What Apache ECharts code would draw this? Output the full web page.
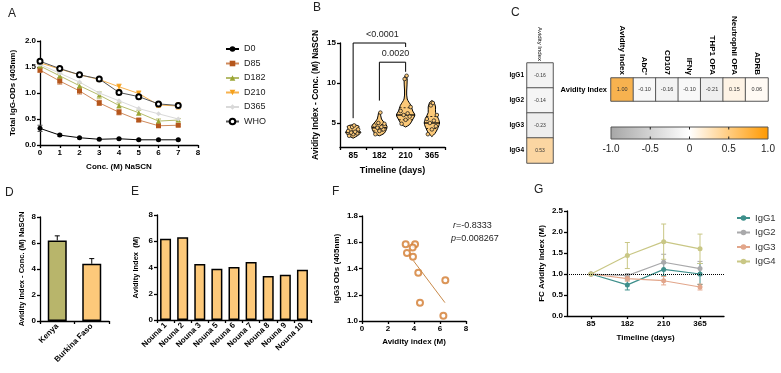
<!DOCTYPE html>
<html>
<head>
<meta charset="utf-8">
<script src="https://cdn.jsdelivr.net/npm/echarts@6/dist/echarts.min.js"></script>
<style>
html, body { margin: 0; padding: 0; background: #fff; }
#main { width: 781px; height: 373px; }
</style>
</head>
<body>
<div id="main"></div>
<script>
var myChart = echarts.init(document.getElementById('main'));

// ---- A: total IgG vs NaSCN concentration
var concA = [0, 1, 2, 3, 4, 5, 6, 7];
var d0   = [0.32, 0.19, 0.14, 0.11, 0.12, 0.10, 0.10, 0.10];
var d85  = [1.44, 1.23, 1.04, 0.81, 0.63, 0.48, 0.37, 0.38];
var d182 = [1.52, 1.33, 1.14, 0.96, 0.76, 0.62, 0.46, 0.48];
var d210 = [1.58, 1.46, 1.35, 1.26, 1.12, 0.99, 0.77, 0.75];
var d365 = [1.55, 1.38, 1.21, 1.00, 0.85, 0.70, 0.60, 0.50];
var who  = [1.61, 1.47, 1.35, 1.27, 1.01, 0.93, 0.79, 0.76];
var errD0   = [0.06, 0.02, 0.01, 0.01, 0.01, 0.01, 0.01, 0.01];
var errD85  = [0.04, 0.06, 0.06, 0.05, 0.05, 0.03, 0.03, 0.02];
var errD182 = [0.03, 0.05, 0.05, 0.06, 0.05, 0.05, 0.04, 0.03];
var errD210 = [0.03, 0.03, 0.03, 0.04, 0.05, 0.05, 0.05, 0.06];

// ---- B: violins per timepoint
var days = ['85', '182', '210', '365'];
var pts85  = [3.4, 3.6, 3.7, 3.8, 3.9, 4.0, 4.2, 4.5, 4.7];
var pts182 = [3.6, 4.0, 4.2, 4.4, 4.5, 4.7, 4.9, 5.0, 6.3];
var pts210 = [4.9, 5.4, 5.8, 6.0, 6.2, 6.5, 7.0, 10.5, 10.9];
var pts365 = [3.6, 4.2, 4.6, 5.0, 5.3, 5.5, 6.0, 7.2, 7.5];
// violin outline: [value, half width as share of the category band]
var violin85  = [[3.1, 0], [3.4, 0.16], [3.8, 0.29], [4.2, 0.2], [4.6, 0.22], [4.8, 0]];
var violin182 = [[3.4, 0], [3.7, 0.18], [4.2, 0.27], [4.6, 0.29], [5.0, 0.2], [5.5, 0.08], [6.3, 0.03], [6.4, 0]];
var violin210 = [[4.5, 0], [4.8, 0.15], [5.5, 0.28], [6.0, 0.35], [6.5, 0.27], [7.2, 0.2], [8.0, 0.06], [9.0, 0.04], [10.5, 0.06], [11.0, 0]];
var violin365 = [[3.3, 0], [3.7, 0.12], [4.3, 0.22], [5.0, 0.29], [5.6, 0.24], [6.3, 0.14], [7.0, 0.14], [7.6, 0.08], [7.8, 0]];
var quart85  = [3.6, 3.85, 4.1];
var quart182 = [4.0, 4.4, 4.8];
var quart210 = [5.4, 6.0, 6.9];
var quart365 = [4.3, 5.0, 5.8];
var brackets = [[0, 2, 15, 5.6, 14.5], [1, 2, 12.6, 7.8, 11.4]];
var bracketLabels = ['<0.0001', '0.0020'];

// ---- C: correlations
var igSubclasses = ['IgG1', 'IgG2', 'IgG3', 'IgG4'];
var igCorr = [-0.16, -0.14, -0.23, 0.53];
var funcAssays = ['Avidity Index', "AbC'", 'CD107', 'IFNγ', 'THP1 OPA', 'Neutrophil OPA', 'ADRB'];
var funcCorr = [1.00, -0.10, -0.16, -0.10, -0.21, 0.15, 0.06];
var cbTicks = [-1, -0.5, 0, 0.5, 1];

// ---- D: by country
var countries = ['Kenya', 'Burkina Faso'];
var countryAvi = [6.2, 4.4];
var countryErr = [0.35, 0.4];

// ---- E: Nouna sites
var nounaSites = ['Nouna 1', 'Nouna 2', 'Nouna 3', 'Nouna 5', 'Nouna 6', 'Nouna 7', 'Nouna 8', 'Nouna 9', 'Nouna 10'];
var nounaAvi = [6.2, 6.3, 4.27, 3.9, 4.04, 4.42, 3.36, 3.44, 3.82];

// ---- F: IgG3 vs avidity
var aviF  = [3.36, 4.08, 3.9, 3.46, 3.92, 4.33, 6.41, 4.46, 6.26];
var igg3F = [1.584, 1.584, 1.56, 1.518, 1.49, 1.367, 1.31, 1.14, 1.04];
var fitLine = [[3.95, 1.46], [6.38, 1.14]];

// ---- G: fold change in avidity per subclass
var gDays = ['85', '182', '210', '365'];
var fcIgG1 = [1.0, 0.74, 1.11, 1.0];
var fcIgG2 = [1.0, 0.96, 1.28, 1.13];
var fcIgG3 = [1.0, 0.89, 0.84, 0.69];
var fcIgG4 = [1.0, 1.44, 1.77, 1.60];
var errIgG1 = [0, 0.12, 0.15, 0.25];
var errIgG2 = [0, 0.05, 0.19, 0.17];
var errIgG3 = [0, 0.06, 0.1, 0.07];
var errIgG4 = [0, 0.31, 0.42, 0.35];

var FONT = 'Liberation Sans, Arial, sans-serif';
var BLACK_LINE = { show: true, onZero: false, lineStyle: { color: '#000', width: 1.3 } };
var TICK = { show: true, length: 3, lineStyle: { color: '#000', width: 1.3 } };
function lbl(size, extra) {
    var o = { color: '#000', fontSize: size || 8, fontWeight: 'bold', fontFamily: FONT, margin: 4 };
    for (var k in extra) o[k] = extra[k];
    return o;
}
var NAME = { color: '#000', fontSize: 8, fontWeight: 'bold', fontFamily: FONT };

function pairs(xs, ys) {
    return xs.map(function (x, i) { return [x, ys[i]]; });
}

function errSeries(xi, yi, xs, means, errs, color, upOnly) {
    var data = xs.map(function (x, i) {
        return [x, upOnly ? means[i] : means[i] - errs[i], means[i] + errs[i]];
    });
    return {
        type: 'custom', xAxisIndex: xi, yAxisIndex: yi, silent: true, z: 3,
        data: data,
        renderItem: function (params, api) {
            if (api.value(2) === api.value(1)) return;
            var x = api.value(0);
            var a = api.coord([x, api.value(1)]);
            var b = api.coord([x, api.value(2)]);
            var hw = 2.5, st = { stroke: color, lineWidth: 1 };
            var ch = [
                { type: 'line', shape: { x1: a[0], y1: a[1], x2: b[0], y2: b[1] }, style: st },
                { type: 'line', shape: { x1: b[0] - hw, y1: b[1], x2: b[0] + hw, y2: b[1] }, style: st }
            ];
            if (!upOnly) ch.push({ type: 'line', shape: { x1: a[0] - hw, y1: a[1], x2: a[0] + hw, y2: a[1] }, style: st });
            return { type: 'group', children: ch };
        }
    };
}

function lineA(name, ys, color, symbol, extra) {
    var s = {
        name: name, type: 'line', xAxisIndex: 0, yAxisIndex: 0,
        data: pairs(concA, ys), symbol: symbol, symbolSize: 5,
        itemStyle: { color: color }, lineStyle: { color: color, width: 1 }, z: 4
    };
    for (var k in extra) s[k] = extra[k];
    return s;
}

function widthAt(prof, y) {
    for (var i = 1; i < prof.length; i++) {
        if (y <= prof[i][0]) {
            var t = (y - prof[i - 1][0]) / (prof[i][0] - prof[i - 1][0]);
            return prof[i - 1][1] + t * (prof[i][1] - prof[i - 1][1]);
        }
    }
    return 0;
}

var violinProfiles = [violin85, violin182, violin210, violin365];
var violinQuarts = [quart85, quart182, quart210, quart365];
var violinPoints = [pts85, pts182, pts210, pts365];
var pointData = [];
violinPoints.forEach(function (arr, g) {
    arr.forEach(function (v, k) { pointData.push([g, v, k]); });
});
var jitter = [-4, 0, 4, -2, 2, -5, 5, -1, 1];

var G_COLORS = ['#3e8f8b', '#a9a9ab', '#e2a68b', '#c9c785'];
function lineG(name, ys, color) {
    return {
        name: name, type: 'line', xAxisIndex: 8, yAxisIndex: 8,
        data: pairs([0, 1, 2, 3], ys), symbol: 'circle', symbolSize: 5,
        itemStyle: { color: color }, lineStyle: { color: color, width: 1.2 }, z: 4
    };
}

var option = {
    animation: false,
    backgroundColor: '#fff',
    textStyle: { fontFamily: FONT },
    grid: [
        { left: 40, top: 41, width: 158, height: 104, outerBoundsMode: 'none' },
        { left: 340, top: 43, width: 105, height: 104, outerBoundsMode: 'none' },
        { left: 527, top: 63, width: 26, height: 100, outerBoundsMode: 'none' },
        { left: 611, top: 78, width: 157, height: 23, outerBoundsMode: 'none' },
        { left: 611, top: 127, width: 157, height: 12, outerBoundsMode: 'none' },
        { left: 40, top: 217, width: 69, height: 104, outerBoundsMode: 'none' },
        { left: 157, top: 215, width: 154, height: 105, outerBoundsMode: 'none' },
        { left: 362, top: 216, width: 104, height: 105, outerBoundsMode: 'none' },
        { left: 567, top: 211, width: 157, height: 105, outerBoundsMode: 'none' }
    ],
    xAxis: [
        { gridIndex: 0, type: 'value', min: 0, max: 8, interval: 1, splitLine: { show: false },
          axisLine: BLACK_LINE, axisTick: TICK, axisLabel: lbl(8),
          name: 'Conc. (M) NaSCN', nameLocation: 'middle', nameGap: 18, nameTextStyle: NAME },
        { gridIndex: 1, type: 'category', data: days, axisLine: BLACK_LINE, axisTick: TICK,
          axisLabel: lbl(8.5),
          name: 'Timeline (days)', nameLocation: 'middle', nameGap: 19,
          nameTextStyle: { color: '#000', fontSize: 9, fontWeight: 'bold' } },
        { gridIndex: 2, type: 'category', data: ['Avidity Index'], position: 'top',
          axisLine: { show: false }, axisTick: { show: false },
          axisLabel: { rotate: 90, fontSize: 6, color: '#000', margin: 2 } },
        { gridIndex: 3, type: 'category', data: funcAssays, position: 'top',
          axisLine: { show: false }, axisTick: { show: false },
          axisLabel: lbl(8, { rotate: 90, margin: 3, fontWeight: 'bold', interval: 0 }) },
        { gridIndex: 4, type: 'value', min: -1, max: 1, interval: 0.5, splitLine: { show: false },
          axisLine: { show: false }, axisTick: { show: false },
          axisLabel: { color: '#222', fontSize: 10, margin: 5,
                       formatter: function (v) { return v === 0 ? '0' : v.toFixed(1); } } },
        { gridIndex: 5, type: 'category', data: countries, axisLine: BLACK_LINE, axisTick: TICK,
          axisLabel: lbl(8, { rotate: 45, interval: 0 }) },
        { gridIndex: 6, type: 'category', data: nounaSites, axisLine: BLACK_LINE, axisTick: TICK,
          axisLabel: lbl(8, { rotate: 45, interval: 0 }) },
        { gridIndex: 7, type: 'value', min: 0, max: 8, interval: 2, splitLine: { show: false },
          axisLine: BLACK_LINE, axisTick: TICK, axisLabel: lbl(8),
          name: 'Avidity index (M)', nameLocation: 'middle', nameGap: 17, nameTextStyle: NAME },
        { gridIndex: 8, type: 'value', min: -0.66, max: 3.66, splitLine: { show: false },
          axisLine: BLACK_LINE,
          axisTick: { show: true, length: 3, lineStyle: { color: '#000', width: 1.3 }, customValues: [0, 1, 2, 3] },
          axisLabel: lbl(8, { customValues: [0, 1, 2, 3],
                              formatter: function (v) { return gDays[Math.round(v)]; } }),
          name: 'Timeline (days)', nameLocation: 'middle', nameGap: 18, nameTextStyle: NAME }
    ],
    yAxis: [
        { gridIndex: 0, type: 'value', min: 0, max: 2, interval: 0.5, splitLine: { show: false },
          axisLine: BLACK_LINE, axisTick: TICK,
          axisLabel: lbl(8, { formatter: function (v) { return v.toFixed(1); } }),
          name: 'Total IgG-ODs (405nm)', nameLocation: 'middle', nameGap: 23, nameTextStyle: NAME },
        { gridIndex: 1, type: 'value', min: 2, max: 15, splitLine: { show: false },
          axisLine: BLACK_LINE,
          axisTick: { show: true, length: 3, lineStyle: { color: '#000', width: 1.3 }, customValues: [5, 10, 15] },
          axisLabel: lbl(8, { customValues: [5, 10, 15] }),
          name: 'Avidity Index - Conc. (M) NaSCN', nameLocation: 'middle', nameGap: 20,
          nameTextStyle: { color: '#000', fontSize: 8.5, fontWeight: 'bold' } },
        { gridIndex: 2, type: 'category', data: igSubclasses, inverse: true,
          axisLine: { show: false }, axisTick: { show: false },
          axisLabel: lbl(6.5, { margin: 3 }) },
        { gridIndex: 3, type: 'category', data: ['Avidity Index'],
          axisLine: { show: false }, axisTick: { show: false },
          axisLabel: lbl(7.5, { margin: 4 }) },
        { gridIndex: 4, type: 'value', min: 0, max: 1, show: false },
        { gridIndex: 5, type: 'value', min: 0, max: 8, interval: 2, splitLine: { show: false },
          axisLine: BLACK_LINE, axisTick: TICK, axisLabel: lbl(8),
          name: 'Avidity Index - Conc. (M) NaSCN', nameLocation: 'middle', nameGap: 14,
          nameTextStyle: { color: '#000', fontSize: 7.5, fontWeight: 'bold' } },
        { gridIndex: 6, type: 'value', min: 0, max: 8, interval: 2, splitLine: { show: false },
          axisLine: BLACK_LINE, axisTick: TICK, axisLabel: lbl(8),
          name: 'Avidity Index  (M)', nameLocation: 'middle', nameGap: 17,
          nameTextStyle: { color: '#000', fontSize: 7.5, fontWeight: 'bold' } },
        { gridIndex: 7, type: 'value', min: 1.0, max: 1.8, interval: 0.2, splitLine: { show: false },
          axisLine: BLACK_LINE, axisTick: TICK,
          axisLabel: lbl(8, { formatter: function (v) { return v.toFixed(1); } }),
          name: 'IgG3 ODs (405nm)', nameLocation: 'middle', nameGap: 21, nameTextStyle: NAME },
        { gridIndex: 8, type: 'value', min: 0, max: 2.5, interval: 0.5, splitLine: { show: false },
          axisLine: BLACK_LINE, axisTick: TICK,
          axisLabel: lbl(8, { formatter: function (v) { return v.toFixed(1); } }),
          name: 'FC Avidity Index (M)', nameLocation: 'middle', nameGap: 21, nameTextStyle: NAME }
    ],
    visualMap: [{
        type: 'continuous', show: false, seriesIndex: [0, 1], min: -1, max: 1,
        inRange: { color: ['#b5b5b5', '#ffffff', '#f7b24f'] }
    }],
    legend: [
        { data: ['D0', 'D85', 'D182', 'D210', 'D365', 'WHO'], orient: 'vertical', left: 220, top: 39,
          itemWidth: 13, itemHeight: 7, itemGap: 4.5, selectedMode: false,
          textStyle: { fontSize: 9, color: '#222', lineHeight: 10 } },
        { data: ['IgG1', 'IgG2', 'IgG3', 'IgG4'], orient: 'vertical', left: 731, top: 208,
          itemWidth: 13, itemHeight: 7, itemGap: 4.5, selectedMode: false,
          textStyle: { fontSize: 9.5, color: '#333', lineHeight: 10 } }
    ],
    graphic: [
        { type: 'text', left: 8, top: 8, style: { text: 'A', fontSize: 12, fill: '#222' } },
        { type: 'text', left: 313, top: 2, style: { text: 'B', fontSize: 12, fill: '#222' } },
        { type: 'text', left: 511, top: 7, style: { text: 'C', fontSize: 12, fill: '#222' } },
        { type: 'text', left: 5, top: 187, style: { text: 'D', fontSize: 12, fill: '#222' } },
        { type: 'text', left: 131, top: 186, style: { text: 'E', fontSize: 12, fill: '#222' } },
        { type: 'text', left: 332, top: 186, style: { text: 'F', fontSize: 12, fill: '#222' } },
        { type: 'text', left: 534, top: 184, style: { text: 'G', fontSize: 12, fill: '#222' } },
        { type: 'text', left: 453, top: 221, style: {
            text: '{i|r}=-0.8333', fontSize: 9, fill: '#222',
            rich: { i: { fontStyle: 'italic', fontSize: 9, fill: '#222' } } } },
        { type: 'text', left: 451, top: 234, style: {
            text: '{i|p}=0.008267', fontSize: 9, fill: '#222',
            rich: { i: { fontStyle: 'italic', fontSize: 9, fill: '#222' } } } }
    ],
    series: [
        // C heatmaps (series 0, 1)
        { type: 'heatmap', xAxisIndex: 2, yAxisIndex: 2,
          data: igCorr.map(function (v, i) { return [0, i, v]; }),
          itemStyle: { borderColor: '#555', borderWidth: 1 },
          label: { show: true, fontSize: 5, color: '#333',
                   formatter: function (p) { return p.value[2].toFixed(2); } } },
        { type: 'heatmap', xAxisIndex: 3, yAxisIndex: 3,
          data: funcCorr.map(function (v, i) { return [i, 0, v]; }),
          itemStyle: { borderColor: '#555', borderWidth: 1 },
          label: { show: true, fontSize: 5.5, color: '#333',
                   formatter: function (p) { return p.value[2].toFixed(2); } } },
        // colour bar
        { type: 'custom', xAxisIndex: 4, yAxisIndex: 4, silent: true,
          data: [[-1, 1]],
          renderItem: function (params, api) {
              var a = api.coord([api.value(0), 1]);
              var b = api.coord([api.value(1), 0]);
              var ch = [{ type: 'rect', shape: { x: a[0], y: a[1], width: b[0] - a[0], height: b[1] - a[1] },
                  style: { fill: new echarts.graphic.LinearGradient(0, 0, 1, 0, [
                      { offset: 0, color: '#a6a6a6' }, { offset: 0.5, color: '#ffffff' }, { offset: 1, color: '#ff9900' }
                  ]), stroke: '#555', lineWidth: 1 } }];
              cbTicks.forEach(function (t) {
                  if (t === -1 || t === 1) return;
                  var x = api.coord([t, 0])[0];
                  ch.push({ type: 'line', shape: { x1: x, y1: a[1], x2: x, y2: a[1] + 2.5 }, style: { stroke: '#222', lineWidth: 1 } });
                  ch.push({ type: 'line', shape: { x1: x, y1: b[1], x2: x, y2: b[1] - 2.5 }, style: { stroke: '#222', lineWidth: 1 } });
              });
              return { type: 'group', children: ch };
          } },
        // A
        lineA('D0', d0, '#000', 'circle'),
        lineA('D85', d85, '#b5561c', 'rect', { lineStyle: { color: '#cf8a5c', width: 1 } }),
        lineA('D182', d182, '#9ba634', 'triangle', { lineStyle: { color: '#b4bb6a', width: 1 } }),
        lineA('D210', d210, '#f5a11c', 'triangle', { symbolRotate: 180, lineStyle: { color: '#f7b24f', width: 1 } }),
        lineA('D365', d365, '#d9d9d9', 'diamond', { symbolSize: 5 }),
        lineA('WHO', who, '#000', 'emptyCircle', { lineStyle: { color: '#555', width: 1 }, itemStyle: { color: '#000', borderWidth: 1 } }),
        errSeries(0, 0, concA, d0, errD0, '#555'),
        errSeries(0, 0, concA, d85, errD85, '#cf8a5c'),
        errSeries(0, 0, concA, d182, errD182, '#b4bb6a'),
        errSeries(0, 0, concA, d210, errD210, '#f7b24f'),
        // B violins
        { type: 'custom', xAxisIndex: 1, yAxisIndex: 1, silent: true, z: 2,
          data: days.map(function (d, i) { return [i, violinProfiles[i][0][0]]; }),
          renderItem: function (params, api) {
              var g = params.dataIndex;
              var prof = violinProfiles[g];
              var band = api.size([1, 0])[0];
              var right = [], left = [];
              prof.forEach(function (p) {
                  var c = api.coord([g, p[0]]);
                  right.push([c[0] + p[1] * band, c[1]]);
                  left.unshift([c[0] - p[1] * band, c[1]]);
              });
              var ch = [{ type: 'polygon', shape: { points: right.concat(left), smooth: 0.3 },
                          style: { fill: '#fcc978', stroke: '#000', lineWidth: 1 } }];
              violinQuarts[g].forEach(function (q, j) {
                  var c = api.coord([g, q]);
                  var w = widthAt(prof, q) * band;
                  ch.push({ type: 'line', shape: { x1: c[0] - w, y1: c[1], x2: c[0] + w, y2: c[1] },
                            style: { stroke: '#000', lineWidth: j === 1 ? 1.3 : 0.8, lineDash: j === 1 ? null : [2, 2] } });
              });
              return { type: 'group', children: ch };
          } },
        { type: 'custom', xAxisIndex: 1, yAxisIndex: 1, silent: true, z: 3,
          data: pointData,
          renderItem: function (params, api) {
              var c = api.coord([api.value(0), api.value(1)]);
              var off = jitter[api.value(2) % jitter.length];
              return { type: 'circle', shape: { cx: c[0] + off, cy: c[1], r: 1.8 },
                       style: { fill: '#fcc978', stroke: '#222', lineWidth: 0.8 } };
          } },
        { type: 'custom', xAxisIndex: 1, yAxisIndex: 1, silent: true, z: 3,
          data: brackets,
          renderItem: function (params, api) {
              var x1 = api.value(0), x2 = api.value(1), yt = api.value(2);
              var pL = api.coord([x1, api.value(3)]), pTL = api.coord([x1, yt]);
              var pTR = api.coord([x2, yt]), pR = api.coord([x2, api.value(4)]);
              return { type: 'group', children: [
                  { type: 'polyline', shape: { points: [pL, pTL, pTR, pR] }, style: { stroke: '#000', lineWidth: 1, fill: null } },
                  { type: 'text', style: { text: bracketLabels[params.dataIndex], x: (pTL[0] + pTR[0]) / 2 + 3,
                      y: pTL[1] - 4, align: 'center', verticalAlign: 'bottom', fontSize: 9, fill: '#222' } }
              ] };
          } },
        // D
        { type: 'bar', xAxisIndex: 5, yAxisIndex: 5, barWidth: 19, z: 2,
          data: countryAvi.map(function (v, i) {
              return { value: v, itemStyle: { color: i === 0 ? '#b8b56b' : '#fdc97a' } };
          }),
          itemStyle: { borderColor: '#000', borderWidth: 1.5 } },
        errSeries(5, 5, [0, 1], countryAvi, countryErr, '#000', true),
        // E
        { type: 'bar', xAxisIndex: 6, yAxisIndex: 6, barWidth: 11, data: nounaAvi,
          itemStyle: { color: '#fdc97a', borderColor: '#000', borderWidth: 1.5 } },
        // F
        { type: 'scatter', xAxisIndex: 7, yAxisIndex: 7, data: pairs(aviF, igg3F),
          symbol: 'emptyCircle', symbolSize: 6,
          itemStyle: { color: '#d27b2e', borderWidth: 1.1 } },
        { type: 'line', xAxisIndex: 7, yAxisIndex: 7, data: fitLine, symbol: 'none',
          lineStyle: { color: '#c98a4a', width: 1 } },
        // G
        (function () {
            var s = lineG('IgG1', fcIgG1, G_COLORS[0]);
            s.markLine = { silent: true, symbol: ['none', 'none'], label: { show: false },
                           lineStyle: { type: 'dotted', color: '#000', width: 1 }, data: [{ yAxis: 1 }] };
            return s;
        })(),
        lineG('IgG2', fcIgG2, G_COLORS[1]),
        lineG('IgG3', fcIgG3, G_COLORS[2]),
        lineG('IgG4', fcIgG4, G_COLORS[3]),
        errSeries(8, 8, [0, 1, 2, 3], fcIgG1, errIgG1, G_COLORS[0]),
        errSeries(8, 8, [0, 1, 2, 3], fcIgG2, errIgG2, G_COLORS[1]),
        errSeries(8, 8, [0, 1, 2, 3], fcIgG3, errIgG3, G_COLORS[2]),
        errSeries(8, 8, [0, 1, 2, 3], fcIgG4, errIgG4, G_COLORS[3])
    ]
};

myChart.setOption(option);
</script>
</body>
</html>
